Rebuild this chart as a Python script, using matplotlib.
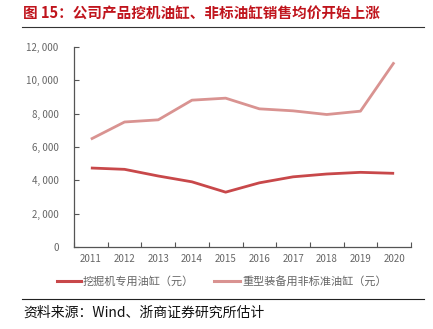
import matplotlib
matplotlib.use("Agg")
import matplotlib.pyplot as plt
from matplotlib.lines import Line2D
from matplotlib.ticker import FuncFormatter

plt.rcParams['font.family'] = ['Noto Sans CJK SC', 'DejaVu Sans']

# data
years = ['2011', '2012', '2013', '2014', '2015', '2016', '2017', '2018', '2019', '2020']
excavator_cyl = [4740, 4660, 4260, 3910, 3290, 3850, 4210, 4380, 4480, 4420]
nonstd_cyl = [6470, 7500, 7630, 8810, 8930, 8290, 8170, 7950, 8150, 11080]
series_names = ['挖掘机专用油缸（元）', '重型装备用非标准油缸（元）']
title = '图 15：公司产品挖机油缸、非标油缸销售均价开始上涨'
source = '资料来源：Wind、浙商证券研究所估计'

c_red = '#C8484A'
c_pink = '#D99391'
c_title = '#C0141C'

W, H = 433, 329
fig = plt.figure(figsize=(W / 100, H / 100), dpi=100)

# axes box in pixels: left 74, right 411, top 47, bottom 247
ax = fig.add_axes([74 / W, 1 - 247 / H, (411 - 74) / W, (247 - 47) / H])
x = list(range(len(years)))
ax.plot(x, excavator_cyl, color=c_red, lw=2.0, solid_capstyle='butt')
ax.plot(x, nonstd_cyl, color=c_pink, lw=2.0, solid_capstyle='butt')

ax.set_xlim(-0.5, len(years) - 0.5)
ax.set_ylim(0, 12000)
ax.set_yticks(range(0, 12001, 2000))
ax.yaxis.set_major_formatter(FuncFormatter(lambda v, p: f'{int(v):,}'.replace(',', ', ')))

# category ticks sit between the labels
ax.set_xticks([i + 0.5 for i in x[:-1]] + [-0.5, len(years) - 0.5])
ax.set_xticklabels([])
ax.set_xticks(x, minor=True)
ax.set_xticklabels(years, minor=True)
ax.tick_params(axis='x', which='minor', length=0, pad=5)
ax.tick_params(axis='x', which='major', length=3.5, direction='in', color='#555555')
ax.tick_params(axis='y', length=3.5, direction='in', color='#555555')
ax.tick_params(which='both', labelsize=7, labelcolor='#666666')
ax.tick_params(axis='y', pad=11)

for s in ['top', 'right']:
    ax.spines[s].set_visible(False)
for s in ['left', 'bottom']:
    ax.spines[s].set_color('#555555')
    ax.spines[s].set_linewidth(0.9)

# title and rules
fig.text(23 / W, 1 - 13 / H, title, fontsize=10.5, fontweight='bold', color=c_title, va='center', ha='left')
fig.add_artist(Line2D([22 / W, 424 / W], [1 - 27 / H, 1 - 27 / H], color='#333333', lw=0.8))
fig.add_artist(Line2D([22 / W, 424 / W], [1 - 299 / H, 1 - 299 / H], color='#222222', lw=0.8))

# legend drawn by hand below the axes
ly = 1 - 281 / H
fig.add_artist(Line2D([57 / W, 81 / W], [ly, ly], color=c_red, lw=2.2))
fig.text(83 / W, ly, series_names[0], fontsize=8, color='#666666', va='center', ha='left')
fig.add_artist(Line2D([214 / W, 240 / W], [ly, ly], color=c_pink, lw=2.2))
fig.text(242 / W, ly, series_names[1], fontsize=8, color='#666666', va='center', ha='left')

fig.text(23 / W, 1 - 313 / H, source, fontsize=10, color='#111111', va='center', ha='left',
         family=['Noto Sans CJK SC', 'Liberation Serif'])

fig.savefig('out.png', dpi=100)
